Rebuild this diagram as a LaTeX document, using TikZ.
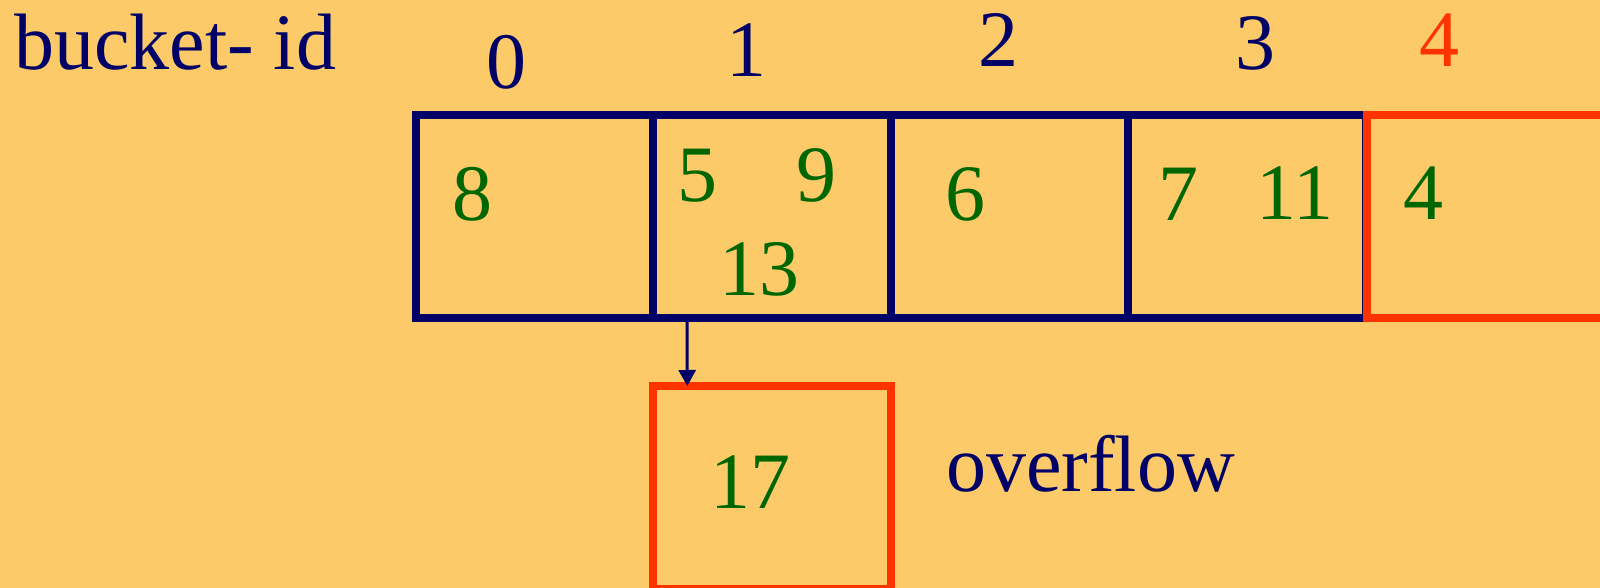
\documentclass[tikz,border=0pt]{standalone}
\usepackage{fontspec}
\setmainfont{Liberation Serif}
\usetikzlibrary{arrows.meta}
\definecolor{bgc}{RGB}{252,202,104}
\definecolor{navy}{RGB}{0,0,102}
\definecolor{dgreen}{RGB}{0,102,0}
\definecolor{ored}{RGB}{255,51,0}
\tikzset{
  txt/.style={inner sep=0pt, outer sep=0pt, font=\fontsize{80}{96}\selectfont},
  hdr/.style={txt, text=navy, anchor=base},
  num/.style={txt, text=dgreen, anchor=base},
  cellbox/.style={draw=navy, line width=8pt, minimum width=237.5pt, minimum height=203pt, inner sep=0pt, outer sep=0pt},
  redbox/.style={cellbox, draw=ored},
  link/.style={draw=navy, line width=3pt, -{Triangle[length=16pt,width=17pt]}}
}
\begin{document}
\begin{tikzpicture}[x=1pt,y=-1pt]
\clip (0,0) rectangle (1600,588);
\fill[bgc] (0,0) rectangle (1600,588);
% bucket cells
\node[cellbox] (c0) at (534.25,216.5) {};
\node[cellbox] (c1) at (771.75,216.5) {};
\node[cellbox] (c2) at (1009.25,216.5) {};
\node[cellbox] (c3) at (1246.75,216.5) {};
\node[redbox]  (c4) at (1485.25,216.5) {};
\node[redbox]  (ov) at (772,487.5) {};
% arrow
\draw[link] ([xshift=34pt]c1.south west) -- ([xshift=34pt]ov.north west);
% headers
\node[txt, text=navy, anchor=base west] (lbl) at (14,70) {bucket- id};
\node[hdr] (h0) at (506,89) {0};
\node[hdr] (h1) at (746,77) {1};
\node[hdr] (h2) at (998,67) {2};
\node[hdr] (h3) at (1255,70) {3};
\node[hdr, text=ored] (h4) at (1439.5,67) {4};
% contents
\node[num] (n8) at (472.5,220) {8};
\node[num] (n5) at (697.5,202) {5};
\node[num] (n9) at (816,202) {9};
\node[num] (n13) at (759,295) {13};
\node[num] (n6) at (965.5,220) {6};
\node[num] (n7) at (1178,220) {7};
\node[num] (n11) at (1295,219) {11};
\node[num] (n4) at (1423,219) {4};
\node[num] (n17) at (750.5,508) {17};
\node[txt, text=navy, anchor=base west] (ovl) at (946,491) {overflow};
\end{tikzpicture}
\end{document}
